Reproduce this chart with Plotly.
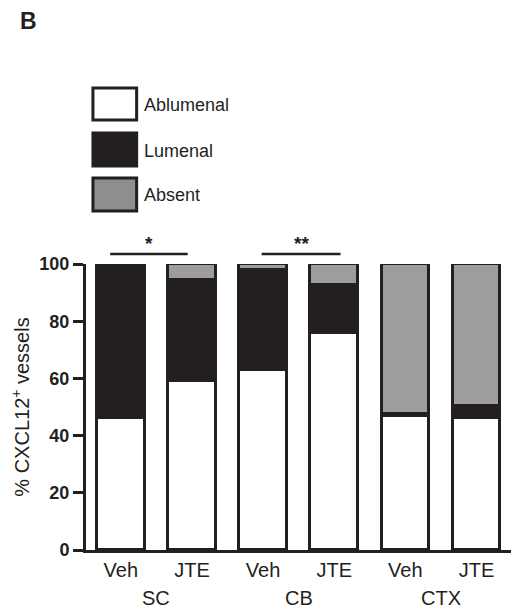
import plotly.graph_objects as go

# ---- data ----
conditions = ["Veh", "JTE", "Veh", "JTE", "Veh", "JTE"]
regions = ["SC", "CB", "CTX"]
ablumenal = [46, 59, 63, 76, 47, 46]
lumenal = [54, 35.5, 35, 16.5, 0.5, 4.5]
absent = [0, 5.5, 2, 7.5, 52.5, 49.5]
series_names = ["Ablumenal", "Lumenal", "Absent"]
yticks = [0, 20, 40, 60, 80, 100]
sig_labels = ["*", "**"]

# ---- styling ----
OFF = 8  # browser body margin
W, H = 519 - OFF, 613 - OFF
L, T = 83 - OFF, 264 - OFF
R = W - (512 - OFF)
B = H - (550 - OFF)
EDGE = "#231f20"
FILLS = ["#ffffff", "#231f20", "#9d9d9f"]
FONT = "Liberation Sans, Arial, Helvetica, sans-serif"

x = list(range(len(conditions)))
fig = go.Figure()
for name, vals, col in zip(series_names, [ablumenal, lumenal, absent], FILLS):
    fig.add_trace(go.Bar(
        x=x, y=vals, name=name, width=0.67,
        marker=dict(color=col, line=dict(color=EDGE, width=3)),
        cliponaxis=False, showlegend=False,
    ))

def px_x(p):
    return (p - OFF - L) / (W - L - R)

def px_y(p):
    return (H - B - (p - OFF)) / (H - T - B)

shapes = []
annotations = []

# manual legend
legend_rows = [(88, 120), (133, 166), (178, 211)]
legend_fills = ["#ffffff", "#231f20", "#8e8e90"]
for (y0, y1), name, col in zip(legend_rows, series_names, legend_fills):
    shapes.append(dict(type="rect", xref="paper", yref="paper",
                       x0=px_x(90), x1=px_x(134), y0=px_y(y1), y1=px_y(y0),
                       fillcolor=col, line=dict(color=EDGE, width=3)))
    annotations.append(dict(xref="paper", yref="paper", x=px_x(139), y=px_y((y0 + y1) / 2 + 1),
                            text=name, showarrow=False, xanchor="left", yanchor="middle",
                            font=dict(size=18, color="#231f20", family=FONT)))

# significance lines
sig_spans = [(-0.15, 0.94), (1.98, 3.09)]
for (a, b), lab in zip(sig_spans, sig_labels):
    shapes.append(dict(type="line", xref="x", yref="paper", x0=a, x1=b,
                       y0=px_y(254), y1=px_y(254), line=dict(color=EDGE, width=2.5)))
    annotations.append(dict(xref="x", yref="paper", x=(a + b) / 2, y=px_y(240),
                            text=f"<b>{lab}</b>", showarrow=False, xanchor="center", yanchor="middle",
                            font=dict(size=19, color="#231f20", family=FONT), yshift=-3))

# region labels
for i, reg in enumerate(regions):
    annotations.append(dict(xref="x", yref="paper", x=2 * i + 0.5, y=px_y(598),
                            text=reg, showarrow=False, xanchor="center", yanchor="middle",
                            font=dict(size=20, color="#231f20", family=FONT)))

# panel letter
annotations.append(dict(xref="paper", yref="paper", x=px_x(15), y=px_y(21),
                        text="<b>B</b>", showarrow=False, xanchor="left", yanchor="middle",
                        font=dict(size=23, color="#231f20", family=FONT)))

fig.update_layout(
    width=W, height=H,
    margin=dict(l=L, r=R, t=T, b=B),
    barmode="stack", bargap=0,
    plot_bgcolor="white", paper_bgcolor="white",
    shapes=shapes, annotations=annotations,
    font=dict(family=FONT, color="#231f20"),
    xaxis=dict(range=[-0.49, 5.5], tickvals=x, ticktext=conditions,
               showline=True, linecolor=EDGE, linewidth=3, ticks="",
               showgrid=False, zeroline=False, fixedrange=True,
               tickfont=dict(size=20, family=FONT, color="#231f20")),
    yaxis=dict(range=[0, 100], tickvals=yticks,
               ticktext=[f"<b>{v}</b>" for v in yticks],
               showline=True, linecolor=EDGE, linewidth=3,
               ticks="outside", ticklen=10, tickwidth=3, tickcolor=EDGE,
               showgrid=False, zeroline=False,
               tickfont=dict(size=18, family=FONT, color="#231f20"),
               title=dict(text="% CXCL12<sup>+</sup> vessels", standoff=10,
                          font=dict(size=20, family=FONT, color="#231f20"))),
)

fig.write_html("out.html")
